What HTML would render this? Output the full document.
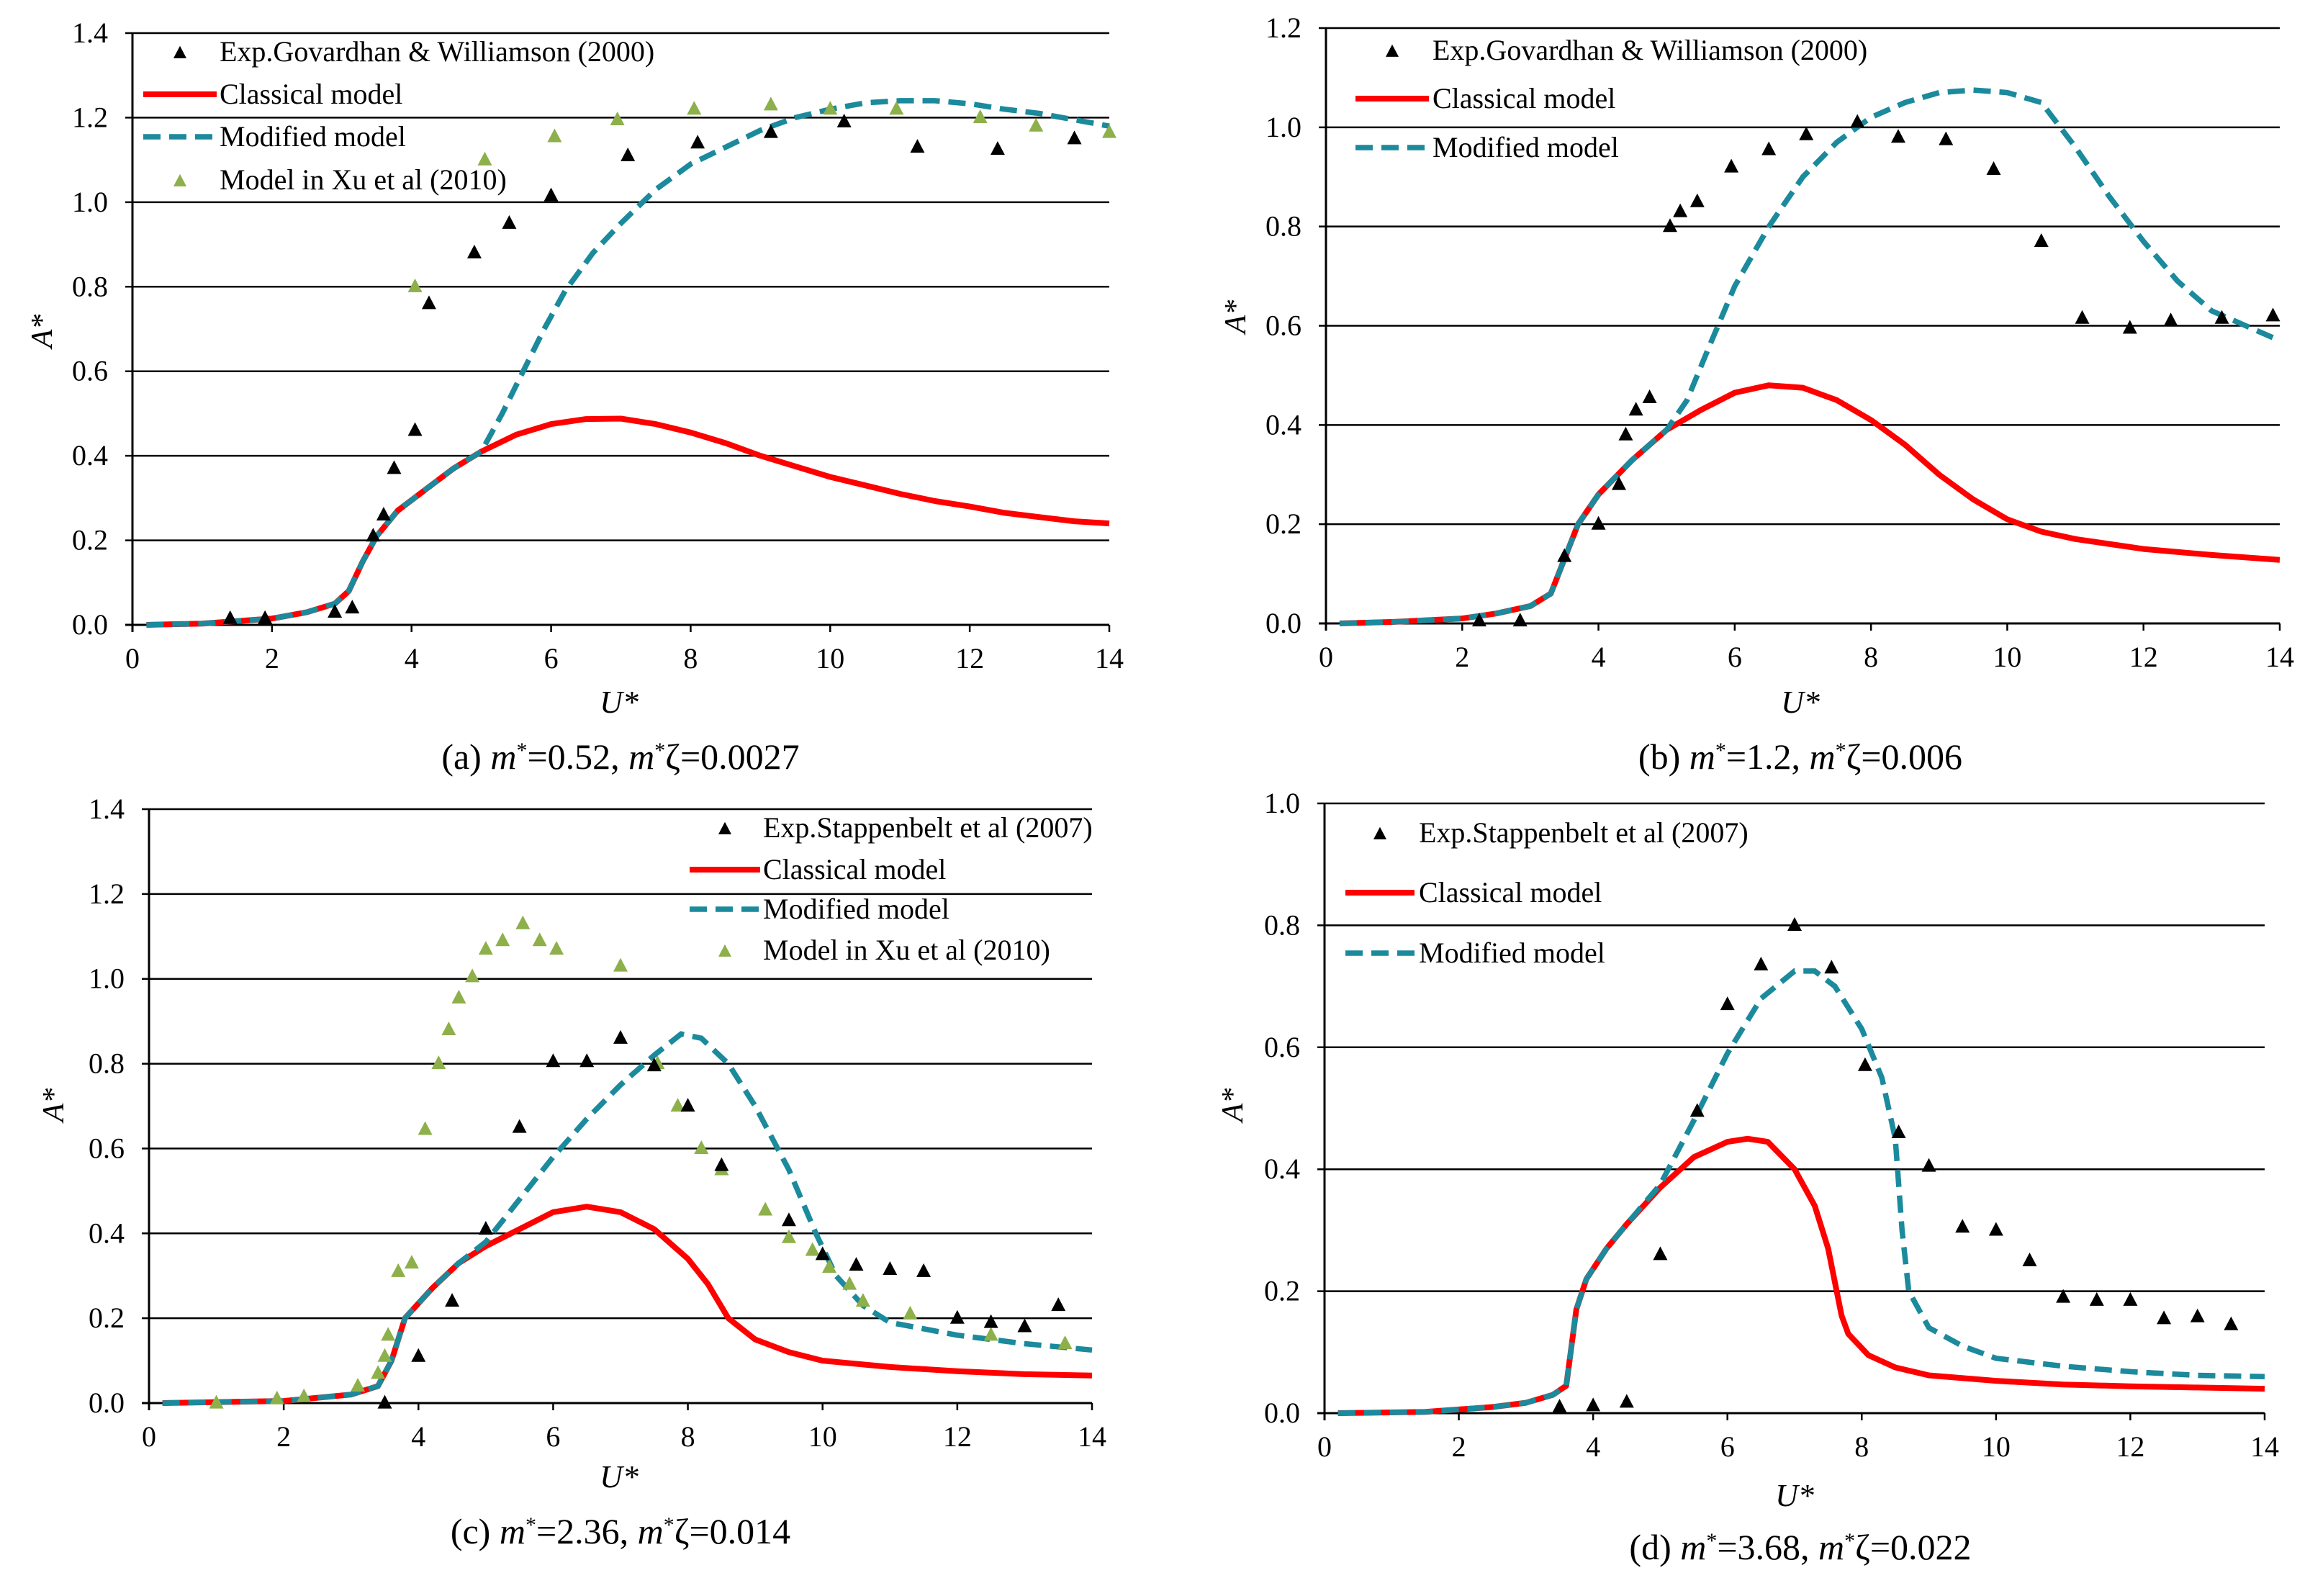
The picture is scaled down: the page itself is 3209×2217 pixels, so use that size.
<!DOCTYPE html>
<html><head><meta charset="utf-8">
<style>
html,body{margin:0;padding:0;background:#fff;}
svg{display:block;}
text{font-family:"Liberation Serif",serif;fill:#000;}
</style></head>
<body>
<svg id="fig" width="3209" height="2217" viewBox="0 0 3209 2217" xmlns="http://www.w3.org/2000/svg"></svg>
<script>
// ---------- Panel (a) data ----------
const aClassU=[0.2,1,2,2.5,2.9,3.1,3.3,3.5,3.8,4.2,4.6,5,5.5,6,6.5,7,7.5,8,8.5,9,9.5,10,10.5,11,11.5,12,12.5,13,13.5,14];
const aClassA=[0,0.003,0.015,0.03,0.05,0.08,0.15,0.21,0.27,0.32,0.37,0.41,0.45,0.475,0.487,0.488,0.475,0.455,0.43,0.4,0.375,0.35,0.33,0.31,0.293,0.28,0.265,0.255,0.245,0.24];
const aModU=[0.2,1,2,2.5,2.9,3.1,3.3,3.5,3.8,4.2,4.6,5,5.3,5.6,5.9,6.2,6.6,7,7.5,8,8.5,9,9.5,10,10.5,11,11.5,12,12.5,13,13.5,14];
const aModA=[0,0.003,0.015,0.03,0.05,0.08,0.15,0.21,0.27,0.32,0.37,0.41,0.5,0.6,0.7,0.79,0.88,0.95,1.03,1.09,1.13,1.17,1.2,1.22,1.235,1.24,1.24,1.233,1.22,1.21,1.195,1.18];
const aExpU=[1.4,1.9,2.9,3.15,3.45,3.6,3.75,4.05,4.25,4.9,5.4,6,7.1,8.1,9.15,10.2,11.25,12.4,13.5];
const aExpA=[0.015,0.015,0.03,0.04,0.21,0.26,0.37,0.46,0.76,0.88,0.95,1.015,1.11,1.14,1.165,1.19,1.13,1.125,1.15];
const aXuU=[4.05,5.05,6.05,6.95,8.05,9.15,10,10.95,12.15,12.95,14];
const aXuA=[0.8,1.1,1.155,1.195,1.22,1.23,1.22,1.22,1.2,1.18,1.165];
const aYTicks=["0.0","0.2","0.4","0.6","0.8","1.0","1.2","1.4"];
// ---------- Panel (b) data ----------
const bClassU=[0.2,1,2,2.5,3,3.3,3.5,3.7,4,4.5,5,5.5,6,6.5,7,7.5,8,8.5,9,9.5,10,10.5,11,12,13,14];
const bClassA=[0,0.003,0.01,0.02,0.035,0.06,0.13,0.2,0.26,0.33,0.39,0.43,0.465,0.48,0.475,0.45,0.41,0.36,0.3,0.25,0.21,0.185,0.17,0.15,0.138,0.128];
const bModU=[0.2,1,2,2.5,3,3.3,3.5,3.7,4,4.5,5,5.3,5.6,6,6.5,7,7.5,8,8.5,9,9.5,10,10.5,11,11.5,12,12.5,13,13.5,14];
const bModA=[0,0.003,0.01,0.02,0.035,0.06,0.13,0.2,0.26,0.33,0.39,0.45,0.55,0.68,0.8,0.9,0.97,1.02,1.05,1.07,1.075,1.07,1.05,0.96,0.86,0.77,0.69,0.63,0.6,0.57];
const bExpU=[2.25,2.85,3.5,4,4.3,4.4,4.55,4.75,5.05,5.2,5.45,5.95,6.5,7.05,7.8,8.4,9.1,9.8,10.5,11.1,11.8,12.4,13.15,13.9];
const bExpA=[0.005,0.005,0.135,0.2,0.28,0.38,0.43,0.455,0.8,0.83,0.85,0.92,0.955,0.985,1.01,0.98,0.975,0.915,0.77,0.615,0.595,0.61,0.615,0.62];
const bYTicks=["0.0","0.2","0.4","0.6","0.8","1.0","1.2"];
// ---------- Panel (c) data ----------
const cClassU=[0.2,2,3,3.4,3.6,3.8,4.2,4.6,5,5.5,6,6.5,7,7.5,8,8.3,8.6,9,9.5,10,11,12,13,14];
const cClassA=[0,0.005,0.02,0.04,0.1,0.2,0.27,0.33,0.37,0.41,0.45,0.463,0.45,0.41,0.34,0.28,0.2,0.15,0.12,0.1,0.085,0.075,0.068,0.065];
const cModU=[0.2,2,3,3.4,3.6,3.8,4.2,4.6,5,5.5,6,6.5,7,7.5,7.9,8.2,8.6,9,9.5,9.9,10.2,10.6,11,12,13,14];
const cModA=[0,0.005,0.02,0.04,0.1,0.2,0.27,0.33,0.38,0.48,0.58,0.67,0.75,0.82,0.87,0.86,0.8,0.7,0.55,0.4,0.3,0.23,0.19,0.16,0.14,0.125];
const cExpU=[3.5,4,4.5,5,5.5,6,6.5,7,7.5,8,8.5,9.5,10,10.5,11,11.5,12,12.5,13,13.5];
const cExpA=[0,0.11,0.24,0.41,0.65,0.805,0.805,0.86,0.795,0.7,0.56,0.43,0.35,0.325,0.315,0.31,0.2,0.19,0.18,0.23];
const cXuU=[1,1.9,2.3,3.1,3.4,3.5,3.55,3.7,3.9,4.1,4.3,4.45,4.6,4.8,5,5.25,5.55,5.8,6.05,7,7.55,7.85,8.2,8.5,9.15,9.5,9.85,10.1,10.4,10.6,11.3,12.5,13.6];
const cXuA=[0,0.01,0.015,0.04,0.07,0.11,0.16,0.31,0.33,0.645,0.8,0.88,0.955,1.005,1.07,1.09,1.13,1.09,1.07,1.03,0.8,0.7,0.6,0.55,0.455,0.39,0.36,0.32,0.28,0.24,0.21,0.16,0.14];
const cYTicks=["0.0","0.2","0.4","0.6","0.8","1.0","1.2","1.4"];
// ---------- Panel (d) data ----------
const dClassU=[0.2,1.5,2.5,3,3.4,3.6,3.75,3.9,4.2,4.5,5,5.5,6,6.3,6.6,7,7.3,7.5,7.7,7.8,8.1,8.5,9,10,11,12,13,14];
const dClassA=[0,0.002,0.01,0.017,0.03,0.045,0.17,0.22,0.27,0.31,0.37,0.42,0.445,0.45,0.445,0.4,0.34,0.27,0.16,0.13,0.095,0.075,0.062,0.053,0.047,0.044,0.042,0.04];
const dModU=[0.2,1.5,2.5,3,3.4,3.6,3.75,3.9,4.2,4.5,5,5.5,6,6.5,7,7.3,7.6,8,8.3,8.5,8.6,8.7,9,9.5,10,11,12,13,14];
const dModA=[0,0.002,0.01,0.017,0.03,0.045,0.17,0.22,0.27,0.31,0.375,0.48,0.59,0.68,0.725,0.725,0.7,0.63,0.55,0.45,0.3,0.2,0.14,0.11,0.09,0.077,0.068,0.062,0.06];
const dExpU=[3.5,4,4.5,5,5.55,6,6.5,7,7.55,8.05,8.55,9,9.5,10,10.5,11,11.5,12,12.5,13,13.5];
const dExpA=[0.01,0.012,0.018,0.26,0.495,0.67,0.735,0.8,0.73,0.57,0.46,0.405,0.305,0.3,0.25,0.19,0.185,0.185,0.155,0.158,0.145];
const dYTicks=["0.0","0.2","0.4","0.6","0.8","1.0"];
const xTicks=["0","2","4","6","8","10","12","14"];

const NS="http://www.w3.org/2000/svg";
const svg=document.getElementById('fig');
function mk(tag,attrs,parent){const e=document.createElementNS(NS,tag);for(const k in attrs)e.setAttribute(k,attrs[k]);(parent||svg).appendChild(e);return e;}
const RED="#ff0000",TEAL="#1b8a9c",GREEN="#8db04a";

function tri(g,cx,cy,col,s){
  const h=s*0.95;
  return mk('polygon',{points:`${cx},${cy-h*0.6} ${cx-s/2},${cy+h*0.4} ${cx+s/2},${cy+h*0.4}`,fill:col},g);
}

function panel(P){
  const g=mk('g',{});
  
  
  const xs=u=>P.x0+(P.x1-P.x0)*u/14;
  const ys=a=>P.y0-(P.y0-P.y1)*a/P.ymax;
  const nT=P.yt.length;
  for(let i=0;i<nT;i++){
    const v=P.ymax*i/(nT-1);
    const ln=mk('line',{x1:P.x0-10,x2:P.x1,y1:ys(v),y2:ys(v),stroke:'#000','stroke-width':i==0?3:2.5},g);
    
    
    const t=mk('text',{x:P.x0-34,y:ys(v)+13,'text-anchor':'end','font-size':40},g);
    t.textContent=P.yt[i];
    
    
  }
  const ax=mk('line',{x1:P.x0,x2:P.x0,y1:P.y1,y2:P.y0+10,stroke:'#000','stroke-width':3},g);
  
  
  for(let i=0;i<xTicks.length;i++){
    const x=xs(+xTicks[i]);
    mk('line',{x1:x,x2:x,y1:P.y0,y2:P.y0+10,stroke:'#000','stroke-width':2.5},g);
    const t=mk('text',{x:x,y:P.y0+60,'text-anchor':'middle','font-size':40},g);
    t.textContent=xTicks[i];
    
    
  }
  const path=(U,A)=>U.map((u,i)=>(i?'L':'M')+xs(u).toFixed(1)+','+ys(A[i]).toFixed(1)).join(' ');
  const c=mk('path',{d:path(P.cu,P.ca),fill:'none',stroke:RED,'stroke-width':8,'stroke-linejoin':'round'},g);
  
  
  const m=mk('path',{d:path(P.mu,P.ma),fill:'none',stroke:TEAL,'stroke-width':7.5,'stroke-dasharray':'24 12'},g);
  
  
  if(P.xu){P.xu.forEach((u,i)=>{const p=tri(g,xs(u),ys(P.xa[i]),GREEN,20);
    
    });}
  P.eu.forEach((u,i)=>{const p=tri(g,xs(u),ys(P.ea[i]),'#000',20);
    
    });
  const L=P.leg;
  const rows=[[P.expLabel,'tri','#000'],['Classical model','line',RED],['Modified model','dash',TEAL]];
  if(P.xu) rows.push(['Model in Xu et al (2010)','tri',GREEN]);
  rows.forEach((r,i)=>{
    const y=L.ys[i];
    if(r[1]=='tri'){tri(g,(L.l0+L.l1)/2,y+2,r[2],18);}
    else{mk('line',{x1:L.l0,x2:L.l1,y1:y,y2:y,stroke:r[2],'stroke-width':r[1]=='line'?8:7.5,'stroke-dasharray':r[1]=='dash'?'24 12':'none'},g);}
    const t=mk('text',{x:L.tx,y:y+13,'font-size':40},g);
    t.textContent=r[0];
    
    
  });
  const ya=mk('text',{x:0,y:0,'font-size':42,'font-style':'italic','text-anchor':'middle',transform:`translate(${P.yax},${P.yay}) rotate(-90)`},g);
  ya.textContent='A*';
  
  
  const xa=mk('text',{x:P.xax,y:P.xay,'font-size':44,'font-style':'italic','text-anchor':'middle'},g);
  xa.textContent='U*';
  
  
  const cap=mk('text',{x:P.capx,y:P.capy,'font-size':50,'text-anchor':'middle'},g);
  cap.innerHTML=`(${P.letter}) <tspan font-style="italic">m</tspan><tspan dy="-16" font-size="30">*</tspan><tspan dy="16">=${P.m}, </tspan><tspan font-style="italic">m</tspan><tspan dy="-16" font-size="30">*</tspan><tspan dy="16">ζ=${P.z}</tspan>`;
  
  
}

panel({id:'panel-a',letter:'a',m:'0.52',z:'0.0027',x0:184,x1:1541,y0:868,y1:46,ymax:1.4,yt:aYTicks,
  cu:aClassU,ca:aClassA,mu:aModU,ma:aModA,eu:aExpU,ea:aExpA,xu:aXuU,xa:aXuA,
  expLabel:'Exp.Govardhan & Williamson (2000)',leg:{l0:199,l1:301,tx:305,ys:[72,131,190,250]},
  yax:72,yay:460,xax:860,xay:990,capx:862,capy:1068});
panel({id:'panel-b',letter:'b',m:'1.2',z:'0.006',x0:1842,x1:3167,y0:866,y1:39,ymax:1.2,yt:bYTicks,
  cu:bClassU,ca:bClassA,mu:bModU,ma:bModA,eu:bExpU,ea:bExpA,
  expLabel:'Exp.Govardhan & Williamson (2000)',leg:{l0:1883,l1:1985,tx:1990,ys:[70,137,205]},
  yax:1730,yay:440,xax:2501,xay:990,capx:2501,capy:1068});
panel({id:'panel-c',letter:'c',m:'2.36',z:'0.014',x0:207,x1:1517,y0:1949,y1:1124,ymax:1.4,yt:cYTicks,
  cu:cClassU,ca:cClassA,mu:cModU,ma:cModA,eu:cExpU,ea:cExpA,xu:cXuU,xa:cXuA,
  expLabel:'Exp.Stappenbelt et al (2007)',leg:{l0:958,l1:1056,tx:1060,ys:[1150,1208,1263,1320]},
  yax:88,yay:1535,xax:860,xay:2066,capx:862,capy:2144});
panel({id:'panel-d',letter:'d',m:'3.68',z:'0.022',x0:1840,x1:3146,y0:1963,y1:1116,ymax:1.0,yt:dYTicks,
  cu:dClassU,ca:dClassA,mu:dModU,ma:dModA,eu:dExpU,ea:dExpA,
  expLabel:'Exp.Stappenbelt et al (2007)',leg:{l0:1869,l1:1965,tx:1971,ys:[1157,1240,1324]},
  yax:1726,yay:1535,xax:2493,xay:2092,capx:2501,capy:2166});
</script>
</body></html>
